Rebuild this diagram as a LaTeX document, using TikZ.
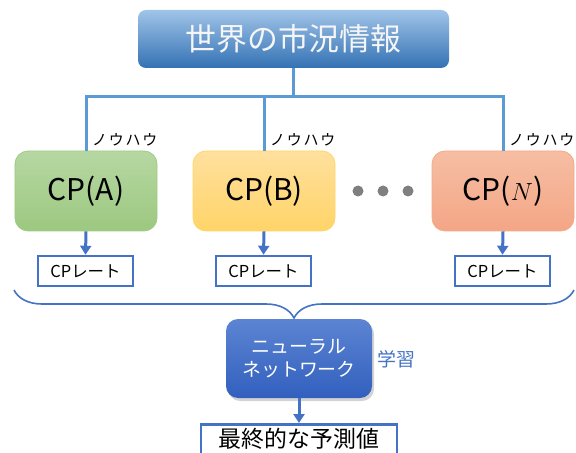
\documentclass[tikz,border=0pt]{standalone}
\usepackage{fontspec}
\setmainfont{Noto Sans CJK JP}
\newfontfamily\jpwide[LetterSpace=12]{Noto Sans CJK JP}
\usetikzlibrary{arrows.meta,shadows,decorations.pathreplacing}
\definecolor{busblue}{RGB}{91,155,213}
\definecolor{linkblue}{RGB}{68,114,196}
\definecolor{dotgray}{RGB}{127,127,127}
\tikzset{
  topbox/.style={
    rectangle, rounded corners=8bp, minimum width=311bp, minimum height=58bp,
    inner sep=0bp, top color={rgb,255:red,160;green,196;blue,232},
    bottom color={rgb,255:red,52;green,114;blue,180}, text={rgb,255:red,245;green,245;blue,245},
    font=\fontsize{31}{36}\selectfont
  },
  cpbox/.style={
    draw, rectangle, rounded corners=13bp, minimum width=142bp, minimum height=80bp,
    inner sep=0bp, line width=0.8bp, font=\fontsize{30}{34}\selectfont
  },
  ratebox/.style={
    draw=linkblue, rectangle, line width=2.5bp, minimum width=95bp, minimum height=30bp,
    inner sep=0bp, fill=white, font=\fontsize{16.5}{18}\selectfont
  },
  knowhow/.style={
    anchor=south west, inner sep=0bp, font=\jpwide\fontsize{15}{17}\selectfont
  },
  busline/.style={draw=busblue, line width=3bp},
  linkarrow/.style={
    draw=linkblue, line width=3bp, -{Triangle[width=11bp,length=9bp]}
  }
}

\begin{document}
\begin{tikzpicture}[x=1bp, y=-1bp]
 \useasboundingbox (0,0) rectangle (576,453);

 \node[topbox] (world) at (293.5, 39) {世界の市況情報};
 \coordinate (bus) at (0, 97);

 \node[cpbox, draw={rgb,255:red,160;green,204;blue,130},
   top color={rgb,255:red,182;green,215;blue,162},
   bottom color={rgb,255:red,156;green,200;blue,128}] (cpa) at (86, 191) {CP(A)};
 \node[cpbox, draw={rgb,255:red,255;green,214;blue,102},
   top color={rgb,255:red,255;green,224;blue,158},
   bottom color={rgb,255:red,255;green,212;blue,104}] (cpb) at (264, 191) {CP(B)};
 \node[cpbox, draw={rgb,255:red,244;green,170;blue,136},
   top color={rgb,255:red,246;green,190;blue,164},
   bottom color={rgb,255:red,244;green,166;blue,134}] (cpn) at (503, 191) {CP($N$)};

 \foreach \x in {358, 383, 408} {
   \fill[dotgray] (\x, 191) circle (5.5bp);
  }

 \node[ratebox] (ratea) at (85.5, 271) {CPレート};
 \node[ratebox] (rateb) at (263.5, 271) {CPレート};
 \node[ratebox] (raten) at (502.5, 271) {CPレート};

 % bus from the top box to the three CPs
 \draw[busline] (cpa.north) |- (bus -| cpn.north) -- (cpn.north);
 \draw[busline] (cpb.north) -- (cpb.north |- bus);
 \draw[busline] (world.south) -- (world.south |- bus);

 \node[knowhow] (kha) at ([xshift=6bp, yshift=4bp]cpa.north) {ノウハウ};
 \node[knowhow] (khb) at ([xshift=6bp, yshift=4bp]cpb.north) {ノウハウ};
 \node[knowhow] (khn) at ([xshift=6bp, yshift=4bp]cpn.north) {ノウハウ};

 \draw[linkarrow] (cpa.south) -- (ratea.north);
 \draw[linkarrow] (cpb.south) -- (rateb.north);
 \draw[linkarrow] (cpn.south) -- (raten.north);

 % brace gathering the rates
 \coordinate (brl) at (14, 290);
 \coordinate (brr) at (574, 290);
 \draw[linkblue, line width=1.6bp, decorate,
   decoration={brace, amplitude=28bp, aspect=0.5}] (brr) -- (brl);

 \node[rectangle, rounded corners=12bp, minimum width=146bp, minimum height=79bp,
   inner sep=0bp, top color={rgb,255:red,92;green,132;blue,210},
   bottom color={rgb,255:red,50;green,96;blue,190}, text=white, align=center,
   drop shadow={shadow xshift=2bp, shadow yshift=-3bp, opacity=0.35},
   font=\fontsize{19}{23}\selectfont] (nn) at (299, 358.5) {ニューラル\\ネットワーク};
 \node[text=linkblue, font=\fontsize{19}{22}\selectfont, anchor=west, inner sep=0bp]
   (learn) at (377, 359) {学習};

 \node[draw=linkblue, line width=2.5bp, rectangle, minimum width=196bp,
   minimum height=36bp, inner sep=0bp, font=\fontsize{23}{26}\selectfont,
   text height=14bp, text depth=4bp, anchor=north] (final) at (299, 423) {最終的な予測値};
 \draw[linkarrow] (nn.south) -- (final.north);

\end{tikzpicture}
\end{document}
